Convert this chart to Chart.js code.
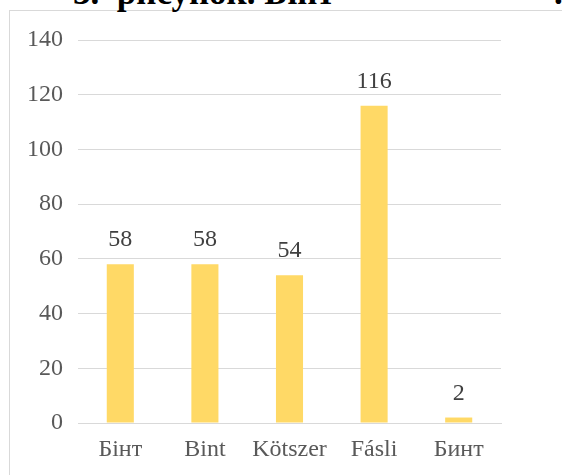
<!DOCTYPE html>
<html>
<head>
<meta charset="utf-8">
<script src="https://cdn.jsdelivr.net/npm/chart.js@4"></script>
<style>
  html, body { margin: 0; padding: 0; background: #fff; overflow: hidden; }
  #wrap { position: relative; width: 562px; height: 475px; }
  #frame { position: absolute; left: 9px; top: 10px; width: 600px; height: 500px; border: 1px solid #d9d9d9; }
  #title { position: absolute; left: 73px; top: -25px; font: bold 35px "Liberation Serif", serif; color: #000; white-space: pre; line-height: 35px; }
  #dot { position: absolute; left: 554px; top: -25px; font: bold 35px "Liberation Serif", serif; color: #000; line-height: 35px; }
  canvas { position: absolute; left: 0; top: 0; }
</style>
</head>
<body>
<div id="wrap">
  <div id="frame"></div>
  <div id="title">3.  рисунок. Бінт</div>
  <div id="dot">.</div>
  <canvas id="myChart" width="562" height="475"></canvas>
</div>
<script>
const categories = ["Бінт", "Bint", "Kötszer", "Fásli", "Бинт"];
const values = [58, 58, 54, 116, 2];
const yTicks = [0, 20, 40, 60, 80, 100, 120, 140];

const barLabels = {
  id: 'barLabels',
  afterDatasetsDraw(chart) {
    const ctx = chart.ctx;
    const meta = chart.getDatasetMeta(0);
    ctx.save();
    ctx.font = '24px "Liberation Serif", serif';
    ctx.fillStyle = '#404040';
    ctx.textAlign = 'center';
    ctx.textBaseline = 'alphabetic';
    meta.data.forEach((bar, i) => {
      ctx.fillText(String(values[i]), bar.x, bar.y - 18);
    });
    ctx.restore();
  }
};

new Chart(document.getElementById("myChart"), {
  type: 'bar',
  data: {
    labels: categories,
    datasets: [
      {
        data: values,
        backgroundColor: "#ffd966",
        barPercentage: 0.32,
        categoryPercentage: 1
      }
    ]
  },
  options: {
    responsive: false,
    animation: false,
    layout: { padding: { top: 40, right: 61, bottom: 0, left: 0 } },
    plugins: {
      legend: { display: false },
      tooltip: { enabled: false }
    },
    scales: {
      y: {
        min: 0,
        max: 140,
        afterFit(scale) { scale.width = 78; },
        afterBuildTicks(scale) { scale.ticks = yTicks.map(v => ({ value: v })); },
        grid: { color: '#d9d9d9', lineWidth: 1, drawTicks: false },
        border: { display: false },
        ticks: {
          padding: 15,
          color: '#595959',
          font: { family: '"Liberation Serif", serif', size: 24 }
        }
      },
      x: {
        afterFit(scale) { scale.height = 52; },
        grid: { display: false, drawTicks: false },
        border: { color: '#d9d9d9', width: 1 },
        ticks: {
          padding: 12,
          color: '#595959',
          font: { family: '"Liberation Serif", serif', size: 24 }
        }
      }
    }
  },
  plugins: [barLabels]
});
</script>
</body>
</html>
